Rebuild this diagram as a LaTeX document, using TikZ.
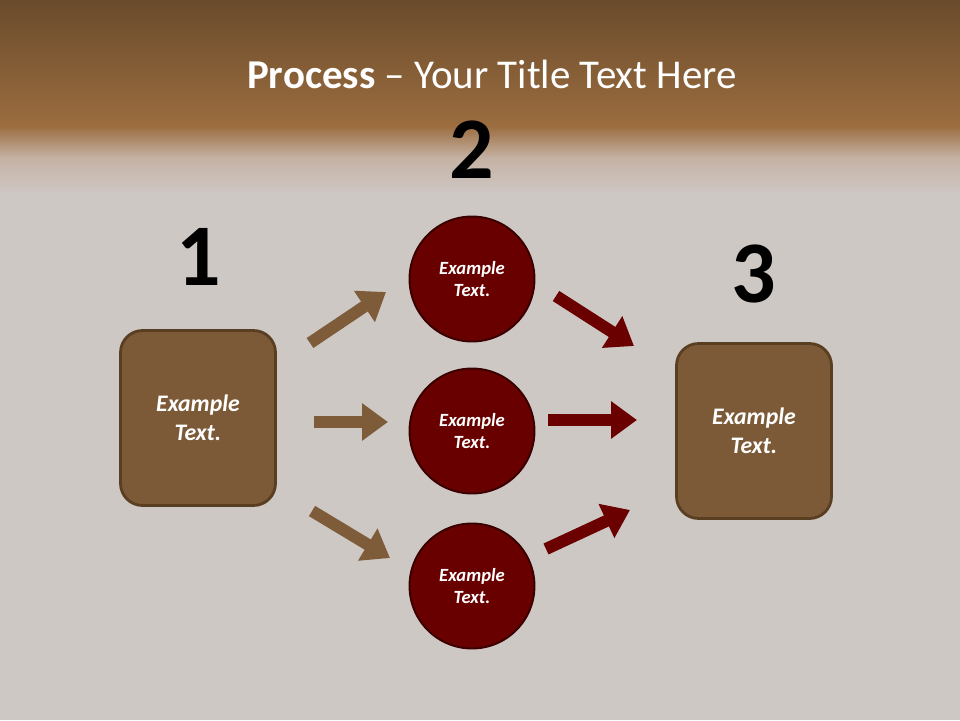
\documentclass[tikz,border=0pt]{standalone}
\usepackage{fontspec}
\setmainfont{Carlito}
\usetikzlibrary{arrows.meta}
\definecolor{bandtop}{HTML}{6A4B2C}
\definecolor{bandlow}{HTML}{9B6D3F}
\definecolor{bandfade}{HTML}{C5B2A4}
\definecolor{floorgrey}{HTML}{CEC8C5}
\definecolor{boxfill}{HTML}{7D5A37}
\definecolor{boxedge}{HTML}{5A3E22}
\definecolor{ballfill}{HTML}{680000}
\definecolor{balledge}{HTML}{3A0000}
\definecolor{redarrow}{HTML}{6B0000}
\definecolor{brownarrow}{HTML}{7E5C3A}
\tikzset{
  stepbox/.style={draw=boxedge, fill=boxfill, line width=1.6pt, rounded corners=0.44cm,
    minimum width=3.1cm, minimum height=3.5cm, text=white,
    font=\bfseries\itshape\fontsize{13.5}{16.4}\selectfont},
  ball/.style={circle, draw=balledge, fill=ballfill, line width=1.1pt, minimum size=2.5cm,
    inner sep=0pt, text=white, font=\bfseries\itshape\fontsize{10.6}{13}\selectfont},
  num/.style={font=\bfseries\fontsize{50}{50}\selectfont},
  blockarrow/.style={line width=0.24cm, -{Triangle[width=0.72cm, length=0.52cm]}}
}
\begin{document}
\begin{tikzpicture}[x=0.02cm, y=-0.02cm, every node/.style={align=center}]
% background
\shade[top color=bandtop, bottom color=bandlow] (0,0) rectangle (960,126);
\shade[top color=bandlow, bottom color=bandfade] (0,126) rectangle (960,158);
\shade[top color=bandfade, bottom color=floorgrey] (0,158) rectangle (960,195);
\fill[floorgrey] (0,195) rectangle (960,720);

\node (title) [anchor=base, text=white, font=\fontsize{23.3}{28}\selectfont] at (492,88) {\textbf{Process} -- Your Title Text Here};

% steps
\node (step1) [stepbox] at (198,418) {Example\\Text.};
\node (step2a) [ball] at (472,279) {Example\\Text.};
\node (step2b) [ball] at (472,431) {Example\\Text.};
\node (step2c) [ball] at (472,586) {Example\\Text.};
\node (step3) [stepbox] at (754,431) {Example\\Text.};

\node (num1) [num] at (199,257) {1};
\node (num2) [num] at (472,150) {2};
\node (num3) [num] at (754,274) {3};

% arrow ends
\coordinate (a1s) at (310,343); \coordinate (a1e) at (386,292);
\coordinate (a2s) at (314,422); \coordinate (a2e) at (388,422);
\coordinate (a3s) at (312,511); \coordinate (a3e) at (390,558);
\coordinate (b1s) at (556,296); \coordinate (b1e) at (634,346);
\coordinate (b2s) at (548,420); \coordinate (b2e) at (637,420);
\coordinate (b3s) at (546,549); \coordinate (b3e) at (630,510);

\draw[blockarrow, brownarrow] (a1s) -- (a1e);
\draw[blockarrow, brownarrow] (a2s) -- (a2e);
\draw[blockarrow, brownarrow] (a3s) -- (a3e);
\draw[blockarrow, redarrow] (b1s) -- (b1e);
\draw[blockarrow, redarrow] (b2s) -- (b2e);
\draw[blockarrow, redarrow] (b3s) -- (b3e);
\end{tikzpicture}
\end{document}
